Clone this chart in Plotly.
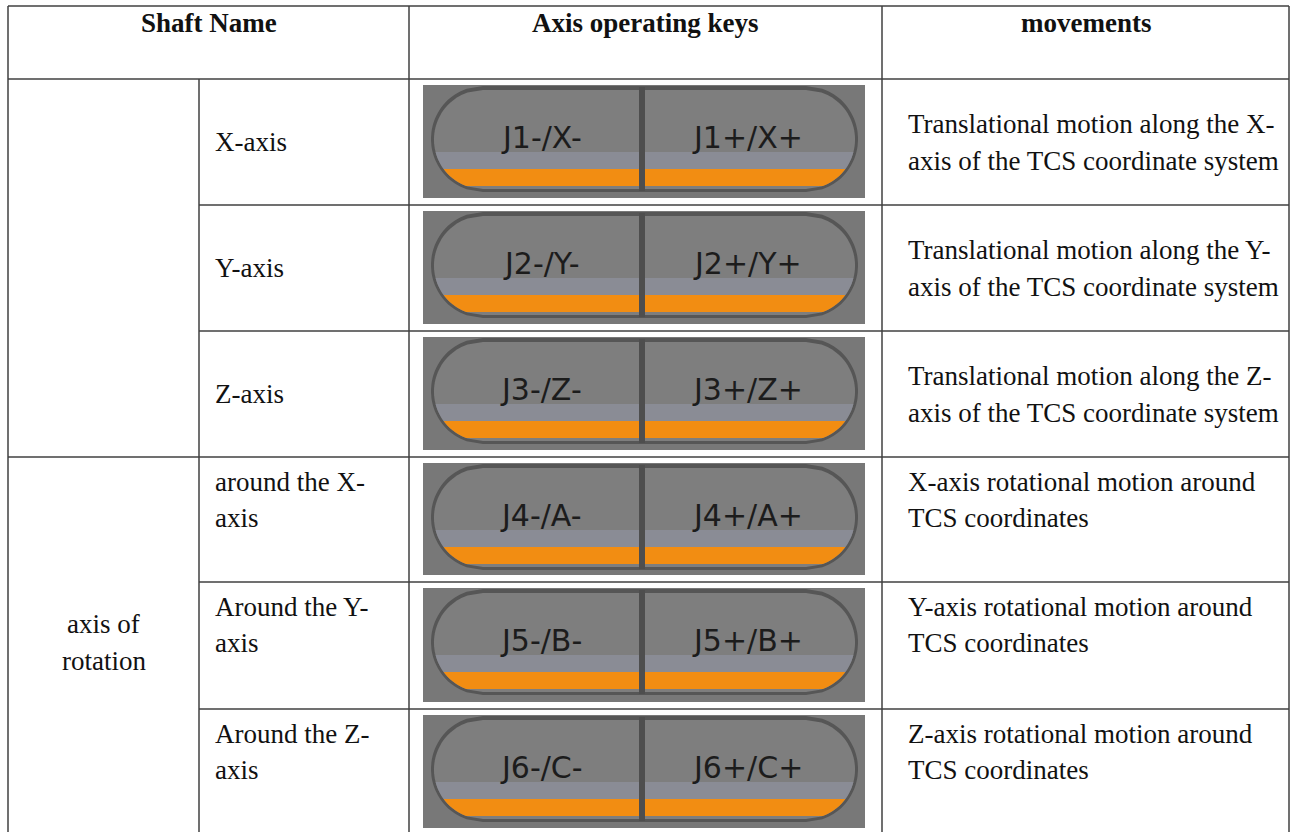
import numpy as np
import plotly.graph_objects as go

W, H = 1292, 832

# table content
HEADERS = ["Shaft Name", "Axis operating keys", "movements"]
GROUP_LABEL = ["axis of", "rotation"]
SHAFTS = [
    ["X-axis"], ["Y-axis"], ["Z-axis"],
    ["around the X-", "axis"], ["Around the Y-", "axis"], ["Around the Z-", "axis"],
]
KEYS_MINUS = ["J1-/X-", "J2-/Y-", "J3-/Z-", "J4-/A-", "J5-/B-", "J6-/C-"]
KEYS_PLUS = ["J1+/X+", "J2+/Y+", "J3+/Z+", "J4+/A+", "J5+/B+", "J6+/C+"]
MOVEMENTS = [
    ["Translational motion along the X-", "axis of the TCS coordinate system"],
    ["Translational motion along the Y-", "axis of the TCS coordinate system"],
    ["Translational motion along the Z-", "axis of the TCS coordinate system"],
    ["X-axis rotational motion around", "TCS coordinates"],
    ["Y-axis rotational motion around", "TCS coordinates"],
    ["Z-axis rotational motion around", "TCS coordinates"],
]

# table geometry (pixels)
COL_X = [8, 199, 409, 882, 1289]
ROW_Y = [6, 79, 205, 331, 457, 582, 709, 835]

LINE = "#404040"
SERIF = "Liberation Serif"
TXT = "#111111"
BTN_BG = "#787878"
BTN_EDGE = "#565656"
BTN_FACE = "#7e7e7e"
BTN_BAND = "#8a8c95"
ORANGE = "#f28d12"

shapes = []
annotations = []


def line(x0, y0, x1, y1, width=1.5, color=LINE):
    shapes.append(dict(type="line", xref="x", yref="y", x0=x0, y0=y0, x1=x1, y1=y1,
                       line=dict(color=color, width=width)))


def text(x, y, s, size=27, bold=False, anchor="left", color=TXT, family=SERIF):
    annotations.append(dict(
        x=x, y=y, xref="x", yref="y", text=f"<b>{s}</b>" if bold else s,
        showarrow=False, xanchor=anchor, yanchor="middle",
        font=dict(family=family, size=size, color=color),
    ))


def band_path(x0, x1, y0, y1, rx, ya, yb, xl=-1e9, xr=1e9, n=24):
    '''horizontal slice ya..yb of a stadium shape with elliptic ends'''
    yc, ry = (y0 + y1) / 2, (y1 - y0) / 2
    ys = np.linspace(max(ya, y0), min(yb, y1), n)
    off = rx * (1 - np.sqrt(np.clip(1 - ((ys - yc) / ry) ** 2, 0, 1)))
    left = [(max(x0 + o, xl), y) for o, y in zip(off, ys)]
    right = [(min(x1 - o, xr), y) for o, y in zip(off[::-1], ys[::-1])]
    return "M " + " L ".join(f"{x:.1f},{y:.1f}" for x, y in left + right) + " Z"


def path(p, fill):
    shapes.append(dict(type="path", xref="x", yref="y", path=p, fillcolor=fill,
                       line=dict(width=0)))


def button(top, bottom, minus, plus):
    ix0, ix1 = 423, 865
    shapes.append(dict(type="rect", xref="x", yref="y", x0=ix0, x1=ix1, y0=top, y1=bottom,
                       fillcolor=BTN_BG, line=dict(width=0)))
    # pill outline and face
    px0, px1, py0, py1, rx = 431, 858, top + 1, top + 107, 52
    path(band_path(px0, px1, py0, py1, rx, py0, py1, n=40), BTN_EDGE)
    fx0, fx1, fy0, fy1, frx = px0 + 3, px1 - 3, py0 + 4, py1 - 3, rx - 3
    path(band_path(fx0, fx1, fy0, fy1, frx, fy0, fy1, n=40), BTN_FACE)
    # lighter band and orange strip
    path(band_path(fx0, fx1, fy0, fy1, frx, top + 67, top + 84), BTN_BAND)
    mid = 642
    path(band_path(fx0, fx1, fy0, fy1, frx, top + 84, top + 101, xr=mid - 3), ORANGE)
    path(band_path(fx0, fx1, fy0, fy1, frx, top + 84, top + 101, xl=mid + 3), ORANGE)
    # divider between the two keys
    shapes.append(dict(type="rect", xref="x", yref="y", x0=mid - 3, x1=mid + 3,
                       y0=py0 + 1, y1=py1 - 1, fillcolor="#4e4e4e", line=dict(width=0)))
    text(541, top + 52, minus, size=30, anchor="center", color="#1c1c1c", family="DejaVu Sans")
    text(747, top + 52, plus, size=30, anchor="center", color="#1c1c1c", family="DejaVu Sans")


# header
text((COL_X[0] + COL_X[2]) / 2, 23, HEADERS[0], bold=True, anchor="center")
text((COL_X[2] + COL_X[3]) / 2, 23, HEADERS[1], bold=True, anchor="center")
text((COL_X[3] + COL_X[4]) / 2, 23, HEADERS[2], bold=True, anchor="center")

# rows
for i in range(6):
    top, bottom = ROW_Y[i + 1], ROW_Y[i + 2]
    if i < 3:
        mid = (top + bottom) / 2
        ys = [mid] if len(SHAFTS[i]) == 1 else [mid - 18.5, mid + 18.5]
        for s, y in zip(SHAFTS[i], ys):
            text(COL_X[1] + 14, y, s)
        for s, y in zip(MOVEMENTS[i], [mid - 18.5, mid + 18.5]):
            text(COL_X[3] + 24, y, s)
    else:
        for s, y in zip(SHAFTS[i], [top + 25, top + 61]):
            text(COL_X[1] + 14, y, s)
        for s, y in zip(MOVEMENTS[i], [top + 25, top + 61]):
            text(COL_X[3] + 24, y, s)
    button(top + 6, bottom - 7, KEYS_MINUS[i], KEYS_PLUS[i])

# merged "axis of rotation" cell
gmid = (ROW_Y[4] + ROW_Y[7]) / 2 - 4
for s, y in zip(GROUP_LABEL, [gmid - 18.5, gmid + 18.5]):
    text((COL_X[0] + COL_X[1]) / 2, y, s, anchor="center")

# grid lines
for y in [ROW_Y[0], ROW_Y[1], ROW_Y[4]]:
    line(COL_X[0], y, COL_X[4], y)
for y in [ROW_Y[2], ROW_Y[3], ROW_Y[5], ROW_Y[6]]:
    line(COL_X[1], y, COL_X[4], y)
line(COL_X[0], ROW_Y[0], COL_X[0], H)
line(COL_X[1], ROW_Y[1], COL_X[1], H)
for x in COL_X[2:]:
    line(x, ROW_Y[0], x, H)

fig = go.Figure()
fig.update_layout(
    width=W, height=H,
    margin=dict(l=0, r=0, t=0, b=0),
    plot_bgcolor="white", paper_bgcolor="white",
    xaxis=dict(range=[0, W], visible=False, fixedrange=True),
    yaxis=dict(range=[H, 0], visible=False, fixedrange=True),
    shapes=shapes, annotations=annotations,
    showlegend=False,
)
# page body has a default 8px margin; drop it so pixel coords line up with the window
fig.write_html(
    "out.html",
    config={"displayModeBar": False},
    post_script="document.body.style.margin='0';document.body.style.overflow='hidden';",
)
